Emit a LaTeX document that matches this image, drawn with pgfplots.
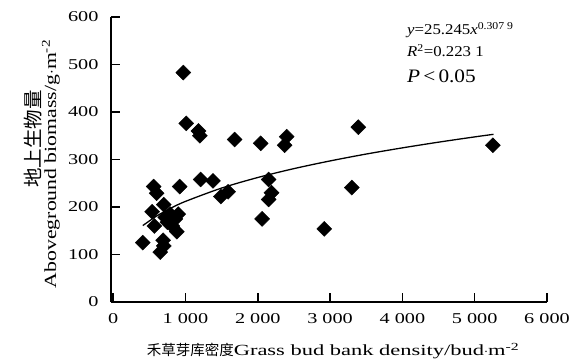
\documentclass[border=0pt]{standalone}
\usepackage{pgfplots}
\pgfplotsset{compat=1.18}
\usepackage{fontspec}
\setmainfont{Liberation Serif}
\newfontfamily\cjk{Noto Sans CJK SC}
\newfontfamily\tickfont[FakeStretch=1.35]{Liberation Serif}
\newfontfamily\xlabfont[FakeStretch=1.45]{Liberation Serif}
\newfontfamily\ylabfont[FakeStretch=1.28]{Liberation Serif}
\newfontfamily\annfont[FakeStretch=1.12]{Liberation Serif}
\begin{document}
\begin{tikzpicture}
\path[use as bounding box] (-111bp,-61bp) rectangle (473bp,302bp);
\begin{axis}[
  at={(0,0)}, anchor=south west, scale only axis,
  width=436bp, height=285bp,
  xmin=-30, xmax=6000, ymin=0, ymax=600,
  axis x line*=bottom, axis y line*=left,
  axis line style={line width=1.5bp},
  tick align=inside, major tick length=9bp,
  tick style={line width=1.5bp, black},
  xtick={0,1000,2000,3000,4000,5000,6000},
  xticklabels={0,1 000,2 000,3 000,4 000,5 000,6 000},
  ytick={0,100,200,300,400,500,600},
  yticklabels={0,100,200,300,400,500,600},
  ticklabel style={font=\fontsize{15bp}{16bp}\tickfont},
  xticklabel style={yshift=-8bp},
  yticklabel style={xshift=-9bp},
  clip=false,
]
\addplot[only marks, mark=square*, mark size=5.3bp, mark options={rotate=45, fill=black, draw=black}] table {
x y
410 125
540 190
560 243
600 229
570 160
650 105
690 130
700 118
700 205
720 178
750 168
790 185
820 160
860 175
880 148
900 185
920 243
970 483
1010 376
1180 360
1200 350
1210 258
1380 255
1490 222
1590 232
1680 342
2040 334
2060 175
2150 258
2150 216
2190 230
2370 330
2400 348
2920 154
3300 241
3390 368
5250 330
};
\addplot[black, line width=1.3bp, no marks, smooth] coordinates {
(410,160.9) (600,180.9) (800,197.7) (1000,211.8) (1500,239.9) (2000,262.1) (2500,280.8) (3000,297.0) (3500,311.5) (4000,324.5) (4500,336.5) (5000,347.6) (5260,353.0)
};
\end{axis}
\node[rotate=90, font=\fontsize{19.5bp}{21bp}\cjk] at (-78bp,163bp) {地上生物量};
\node[rotate=90, font=\fontsize{17bp}{19bp}\ylabfont] at (-60bp,138bp) {Aboveground biomass/g$\cdot$m\textsuperscript{-2}};
\node[font=\fontsize{15.5bp}{17bp}\xlabfont] at (222bp,-49bp) {{\fontsize{14.5bp}{17bp}\cjk 禾草芽库密度}Grass bud bank density/bud$\cdot$m\textsuperscript{-2}};
\node[anchor=base west, inner sep=0pt, font=\fontsize{15bp}{17bp}\annfont] at (296bp,267bp) {\textit{y}=25.245\textit{x}\textsuperscript{0.307 9}};
\node[anchor=base west, inner sep=0pt, font=\fontsize{15bp}{17bp}\annfont] at (296bp,245bp) {\textit{R}\textsuperscript{2}=0.223 1};
\node[anchor=base west, inner sep=0pt, font=\fontsize{19bp}{21bp}\annfont] at (296bp,219bp) {\textit{P}\,<\,0.05};
\end{tikzpicture}
\end{document}
